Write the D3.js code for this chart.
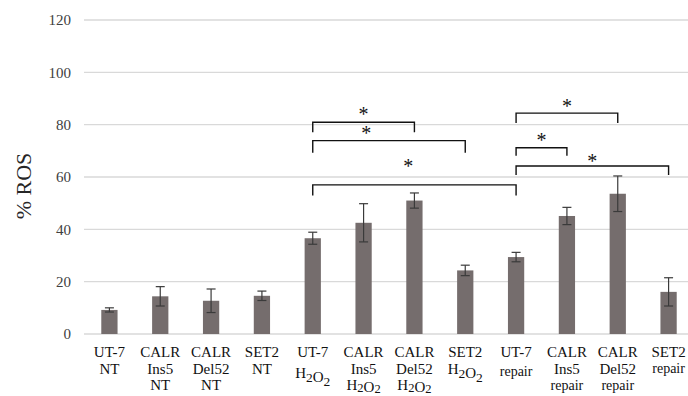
<!DOCTYPE html>
<html>
<head>
<meta charset="utf-8">
<script src="https://cdn.jsdelivr.net/npm/d3@7"></script>
<style>
  html, body { margin: 0; padding: 0; background: #fff; }
  svg { display: block; }
  text { font-family: "Liberation Serif", "Times New Roman", serif; }
</style>
</head>
<body>
<svg id="chart" width="688" height="396"></svg>
<script>
// Category labels, one entry per line; "_" marks a subscript digit
const categories = ["UT-7 NT", "CALR Ins5 NT", "CALR Del52 NT", "SET2 NT",
  "UT-7 H2O2", "CALR Ins5 H2O2", "CALR Del52 H2O2", "SET2 H2O2",
  "UT-7 repair", "CALR Ins5 repair", "CALR Del52 repair", "SET2 repair"];
const labelLines = [
  ["UT-7", "NT"], ["CALR", "Ins5", "NT"], ["CALR", "Del52", "NT"], ["SET2", "NT"],
  ["UT-7", "H_2O_2"], ["CALR", "Ins5", "H_2O_2"], ["CALR", "Del52", "H_2O_2"], ["SET2", "H_2O_2"],
  ["UT-7", "repair"], ["CALR", "Ins5", "repair"], ["CALR", "Del52", "repair"], ["SET2", "repair"]
];
// Mean % ROS and error (±)
const rosMean = [9.2, 14.4, 12.7, 14.6, 36.6, 42.5, 51.0, 24.3, 29.4, 45.1, 53.6, 16.1];
const rosErr  = [0.8, 3.7, 4.5, 1.8, 2.3, 7.3, 2.9, 2.0, 1.8, 3.3, 6.8, 5.4];
const yTicks = [0, 20, 40, 60, 80, 100, 120];

// Significance brackets: indices of the compared bars, bracket height, leg end, star height
const bracketFrom  = [4, 4, 4, 8, 8, 8];
const bracketTo    = [6, 7, 8, 10, 9, 11];
const bracketLevel = [80.9, 73.9, 57.0, 84.4, 71.2, 64.2];
const bracketLeg   = [77.1, 69.3, 52.9, 80.6, 68.1, 60.8];
const starLevel    = [85.0, 77.6, 65.3, 88.2, 75.1, 66.9];
const starFrac     = [0.5, 0.35, 0.47, 0.5, 0.5, 0.5];

const svg = d3.select("#chart");
const W = 688;

const x = d3.scaleBand().domain(categories).range([84, 694])
  .paddingInner(0.68).paddingOuter(0.34);
const y = d3.scaleLinear().domain([0, 120]).range([334, 20]);
const cx = i => x(categories[i]) + x.bandwidth() / 2;

// Gridlines
svg.append("g").selectAll("line").data(yTicks).join("line")
  .attr("x1", 84).attr("x2", W)
  .attr("y1", d => y(d)).attr("y2", d => y(d))
  .attr("stroke", "#d9d9d9").attr("stroke-width", 1.3);

// Y tick labels
svg.append("g").selectAll("text").data(yTicks).join("text")
  .attr("x", 71).attr("y", d => y(d)).attr("dy", "0.35em")
  .attr("text-anchor", "end").attr("font-size", 15).attr("fill", "#404040")
  .text(d => d);

// Y axis title
svg.append("text")
  .attr("transform", "translate(31,186) rotate(-90)")
  .attr("text-anchor", "middle").attr("font-size", 22).attr("fill", "#262626")
  .text("% ROS");

// Bars
svg.append("g").selectAll("rect").data(rosMean).join("rect")
  .attr("x", (d, i) => x(categories[i]))
  .attr("width", x.bandwidth())
  .attr("y", d => y(d))
  .attr("height", d => y(0) - y(d))
  .attr("fill", "#756d6d");

// Error bars
const eb = svg.append("g").attr("stroke", "#3a3a3a").attr("stroke-width", 1.2);
rosMean.forEach((m, i) => {
  const c = cx(i), lo = y(m - rosErr[i]), hi = y(m + rosErr[i]);
  eb.append("line").attr("x1", c).attr("x2", c).attr("y1", lo).attr("y2", hi);
  eb.append("line").attr("x1", c - 4.5).attr("x2", c + 4.5).attr("y1", hi).attr("y2", hi);
  eb.append("line").attr("x1", c - 4.5).attr("x2", c + 4.5).attr("y1", lo).attr("y2", lo);
});

// Significance brackets with stars
const br = svg.append("g");
bracketFrom.forEach((f, k) => {
  const x1 = cx(f), x2 = cx(bracketTo[k]);
  const yl = y(bracketLevel[k]), yb = y(bracketLeg[k]);
  br.append("path")
    .attr("d", `M${x1},${yb}V${yl}H${x2}V${yb}`)
    .attr("fill", "none").attr("stroke", "#111").attr("stroke-width", 1.4);
  br.append("text")
    .attr("x", x1 + (x2 - x1) * starFrac[k])
    .attr("y", y(starLevel[k]) + 9.4)
    .attr("text-anchor", "middle").attr("font-size", 20).attr("fill", "#111")
    .text("*");
});

// Category labels
const lineY = [357, 373.5, 390];
const lab = svg.append("g").attr("fill", "#111").attr("text-anchor", "middle");
labelLines.forEach((lines, i) => {
  lines.forEach((s, j) => {
    const small = s === "repair";
    let yy = lineY[j];
    if (small && lines.length === 2) yy = i === 11 ? 373 : 376;
    if (s.includes("_") && i === 4) yy = 378;
    const sub = j === 2 ? 1.5 : 4;
    const t = lab.append("text")
      .attr("x", cx(i)).attr("y", yy)
      .attr("font-size", small ? 14 : 15);
    // Split "H_2O_2" into normal text and lowered digits
    s.split(/(_\d)/).filter(p => p.length).forEach(p => {
      if (p.startsWith("_")) {
        t.append("tspan").attr("dy", sub).attr("font-size", j === 2 ? 12.5 : 13.5).text(p.slice(1));
        t.append("tspan").attr("dy", -sub).text("");
      } else {
        t.append("tspan").text(p);
      }
    });
  });
});
</script>
</body>
</html>
